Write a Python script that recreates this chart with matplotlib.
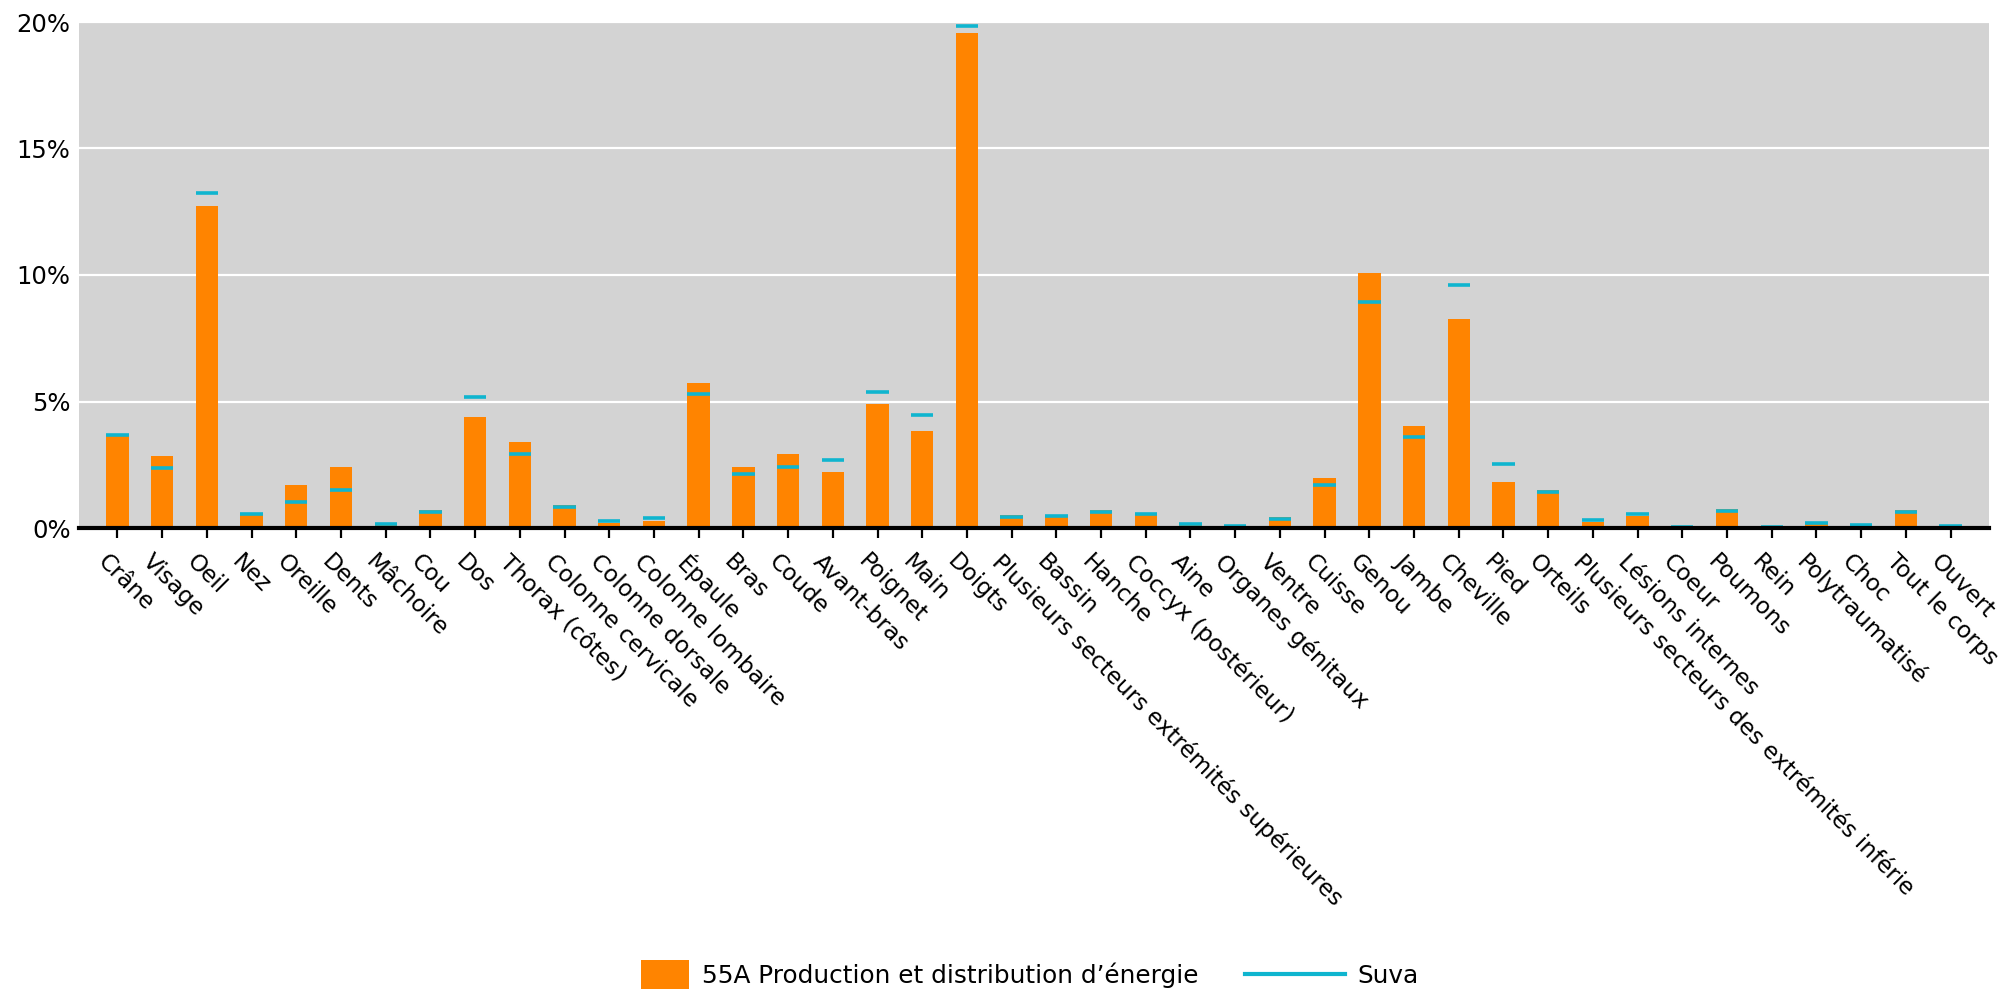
import matplotlib
matplotlib.use("Agg")
import matplotlib.pyplot as plt
from matplotlib.patches import Patch, Rectangle
from matplotlib.lines import Line2D
from matplotlib.legend_handler import HandlerPatch
from matplotlib.transforms import ScaledTranslation

categories = ["Crâne", "Visage", "Oeil", "Nez", "Oreille", "Dents", "Mâchoire", "Cou", "Dos",
              "Thorax (côtes)", "Colonne cervicale", "Colonne dorsale", "Colonne lombaire", "Épaule",
              "Bras", "Coude", "Avant-bras", "Poignet", "Main", "Doigts",
              "Plusieurs secteurs extrémités supérieures", "Bassin", "Hanche", "Coccyx (postérieur)",
              "Aine", "Organes génitaux", "Ventre", "Cuisse", "Genou", "Jambe", "Cheville", "Pied",
              "Orteils", "Plusieurs secteurs des extrémités inférie", "Lésions internes", "Coeur",
              "Poumons", "Rein", "Polytraumatisé", "Choc", "Tout le corps", "Ouvert"]

energie = [3.72, 2.86, 12.74, 0.50, 1.68, 2.43, 0.10, 0.72, 4.40, 3.38, 0.92, 0.20, 0.27, 5.74,
           2.43, 2.92, 2.20, 4.91, 3.82, 19.56, 0.52, 0.45, 0.72, 0.61, 0.10, 0.02, 0.45, 1.99,
           10.08, 4.05, 8.25, 1.82, 1.51, 0.25, 0.48, 0.01, 0.75, 0.00, 0.14, 0.05, 0.70, 0.00]

suva = [3.68, 2.38, 13.26, 0.56, 1.04, 1.50, 0.17, 0.63, 5.19, 2.93, 0.82, 0.27, 0.39, 5.30,
        2.13, 2.43, 2.67, 5.39, 4.46, 19.86, 0.44, 0.47, 0.65, 0.55, 0.17, 0.06, 0.34, 1.69,
        8.93, 3.61, 9.59, 2.51, 1.42, 0.32, 0.54, 0.04, 0.68, 0.03, 0.21, 0.11, 0.62, 0.06]

yticks = [0, 5, 10, 15, 20]
ytick_labels = ["0%", "5%", "10%", "15%", "20%"]

series_names = ["55A Production et distribution d\u2019énergie", "Suva"]

ORANGE = "#ff8400"
CYAN = "#0fb5cf"
GREY = "#d3d3d3"
FS_X = 16.7
FS_Y = 17.5
FS_LEG = 17.8

plt.rcParams['font.family'] = ['DejaVu Sans']

fig = plt.figure(figsize=(20.06, 9.91), dpi=100)
ax = fig.add_axes([79 / 2006, 1 - 528 / 991, (1989 - 79) / 2006, (528 - 22) / 991])
ax.set_facecolor(GREY)

x = list(range(len(categories)))
bw = 0.5
ax.bar(x, energie, width=bw, color=ORANGE, zorder=2)
ax.hlines(suva, [xi - bw / 2 for xi in x], [xi + bw / 2 for xi in x], colors=CYAN,
          linewidth=2.6, zorder=3)

ax.set_xlim(-0.86, len(categories) - 1 + 0.86)
ax.set_ylim(0, 20)
ax.set_yticks(yticks)
ax.set_yticklabels(ytick_labels, fontsize=FS_Y)
ax.tick_params(axis='y', length=0, pad=6)
ax.yaxis.grid(True, color='white', linewidth=1.6)
ax.set_axisbelow(True)

ax.set_xticks(x)
ax.set_xticklabels(categories, fontsize=FS_X, rotation=-45, ha='left', va='top',
                   rotation_mode='anchor')
ax.tick_params(axis='x', length=7, width=1.6, color='black', pad=9)
off = ScaledTranslation(-8 / 100, 0, fig.dpi_scale_trans)
for lbl in ax.get_xticklabels():
    lbl.set_transform(lbl.get_transform() + off)

for s in ['top', 'right', 'left']:
    ax.spines[s].set_visible(False)
ax.spines['bottom'].set_linewidth(3)
ax.spines['bottom'].set_color('black')
ax.spines['bottom'].set_zorder(4)


def make_rect(legend, orig_handle, xdescent, ydescent, width, height, fontsize):
    w, h = 34.6, 20.9
    return Rectangle((-xdescent + width - w, -ydescent + height / 2 - h / 2), w, h,
                     facecolor=ORANGE, edgecolor='none')


handles = [Patch(facecolor=ORANGE), Line2D([], [], color=CYAN, linewidth=3)]
fig.legend(handles, series_names, loc='center', bbox_to_anchor=(0.5005, 1 - 975 / 991),
           ncol=2, frameon=False, fontsize=FS_LEG, handlelength=4.05, handletextpad=0.5,
           columnspacing=1.9, handler_map={Patch: HandlerPatch(patch_func=make_rect)})

fig.savefig("out.png", dpi=100)
